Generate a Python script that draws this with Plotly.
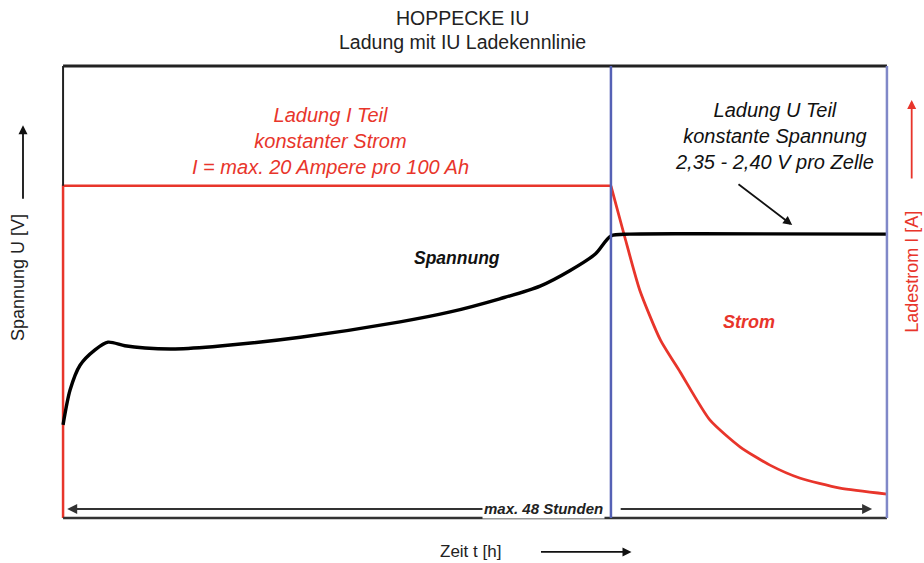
import plotly.graph_objects as go

# Voltage curve (Spannung), relative units on both axes (0..100)
u_time = [0, 0.85, 2.06, 3.88, 5.46, 7.5, 9.95, 13.6, 19.05, 28.8, 40.9, 47.0,
          53.0, 57.9, 61.5, 64.6, 66.5, 68.8, 77.3, 100]
u_volt = [20.6, 28.3, 33.8, 37.2, 38.9, 38.1, 37.6, 37.4, 38.05, 40.0, 43.4, 45.6,
          48.5, 51.3, 54.7, 58.4, 62.4, 62.8, 62.9, 62.8]

# Charging current (Strom): constant phase, then decay
i_const_time = [0, 0, 66.5]
i_const_amp = [0, 73.5, 73.5]
i_decay_time = [66.5, 68.2, 70.0, 72.5, 74.9, 78.5, 82.2, 85.8, 89.4, 94.3, 100]
i_decay_amp = [73.5, 62.0, 50.4, 39.4, 32.3, 21.7, 15.7, 11.7, 8.85, 6.6, 5.3]

switch_time = 66.5

RED = '#e8352b'
BLUE = '#5561b5'
FONT = 'Liberation Sans, Arial, sans-serif'

fig = go.Figure()

fig.add_trace(go.Scatter(
    x=i_const_time, y=i_const_amp, mode='lines',
    line=dict(color=RED, width=2.5),
    cliponaxis=False, hoverinfo='skip'
))
fig.add_trace(go.Scatter(
    x=i_decay_time, y=i_decay_amp, mode='lines',
    line=dict(color=RED, width=2.8, shape='spline', smoothing=0.6),
    cliponaxis=False, hoverinfo='skip'
))
fig.add_trace(go.Scatter(
    x=u_time, y=u_volt, mode='lines',
    line=dict(color='black', width=3.4, shape='spline', smoothing=0.8),
    cliponaxis=False, hoverinfo='skip'
))

shapes = [
    # frame
    dict(type='line', xref='x', yref='paper', x0=0, y0=1, x1=100, y1=1,
         line=dict(color='#222222', width=3)),
    dict(type='line', xref='x', yref='paper', x0=0, y0=0, x1=100, y1=0,
         line=dict(color='#333333', width=2.5)),
    dict(type='line', xref='x', yref='paper', x0=0, y0=73.5 / 100, x1=0, y1=1,
         line=dict(color='#222222', width=2)),
    dict(type='line', xref='x', yref='paper', x0=100, y0=0, x1=100, y1=1,
         line=dict(color='#8088c8', width=2.5)),
    # phase switch
    dict(type='line', xref='x', yref='paper', x0=switch_time, y0=0, x1=switch_time, y1=1,
         line=dict(color=BLUE, width=2.5)),
]

annotations = [
    dict(text='HOPPECKE IU', xref='paper', yref='paper', x=0.485, y=1.106,
         yanchor='middle', showarrow=False, font=dict(size=19.5, color='#222222')),
    dict(text='Ladung mit IU Ladekennlinie', xref='paper', yref='paper', x=0.485, y=1.053,
         yanchor='middle', showarrow=False, font=dict(size=19.5, color='#222222')),
    dict(text='<i>Ladung I Teil<br>konstanter Strom<br>I = max. 20 Ampere pro 100 Ah</i>',
         x=32.4, y=83.5, yanchor='middle', showarrow=False, align='center',
         font=dict(size=20, color=RED)),
    dict(text='<i>Ladung U Teil<br>konstante Spannung<br>2,35 - 2,40 V pro Zelle</i>',
         x=86.3, y=84.5, yanchor='middle', showarrow=False, align='center',
         font=dict(size=20, color='#111111')),
    dict(text='<b><i>Spannung</i></b>', x=47.8, y=57.5, showarrow=False,
         yanchor='middle', font=dict(size=17.5, color='#111111')),
    dict(text='<b><i>Strom</i></b>', x=83.3, y=43.4, showarrow=False,
         yanchor='middle', font=dict(size=18, color=RED)),
    # arrow to U part
    dict(x=88.5, y=64.8, ax=81.8, ay=74.1, axref='x', ayref='y', text='',
         showarrow=True, arrowhead=2, arrowsize=1, arrowwidth=1.8, arrowcolor='#111111'),
    # time span arrows
    dict(x=0.5, y=2.0, ax=65.5, ay=2.0, axref='x', ayref='y', text='',
         showarrow=True, arrowhead=2, arrowsize=1, arrowwidth=2, arrowcolor='#333333'),
    dict(x=98.2, y=2.0, ax=67.5, ay=2.0, axref='x', ayref='y', text='',
         showarrow=True, arrowhead=2, arrowsize=1, arrowwidth=2, arrowcolor='#333333'),
    dict(text='<b><i>max. 48 Stunden</i></b>', x=65.8, y=2.0, xanchor='right',
         yanchor='middle', showarrow=False, bgcolor='white',
         font=dict(size=15, color='#222222')),
    # axis labels
    dict(text='Zeit t [h]', xref='paper', yref='paper', x=0.494, y=-0.075,
         xanchor='center', yanchor='middle', showarrow=False,
         font=dict(size=17, color='#222222')),
    dict(xref='paper', yref='paper', x=0.689, y=-0.075, ax=-92, ay=0, text='',
         showarrow=True, arrowhead=2, arrowsize=1, arrowwidth=1.8, arrowcolor='#111111'),
    dict(text='Spannung U [V]', xref='paper', yref='paper', x=-0.0519, y=0.531,
         xanchor='center', yanchor='middle', textangle=-90, showarrow=False,
         font=dict(size=18, color='#222222')),
    dict(xref='paper', yref='paper', x=-0.0459, y=0.869, ax=0, ay=75, text='',
         showarrow=True, arrowhead=2, arrowsize=1, arrowwidth=1.8, arrowcolor='#111111'),
    dict(text='Ladestrom I [A]', xref='paper', yref='paper', x=1.0274, y=0.544,
         xanchor='center', yanchor='middle', textangle=-90, showarrow=False,
         font=dict(size=18, color=RED)),
    dict(xref='paper', yref='paper', x=1.0274, y=0.925, ax=0, ay=80, text='',
         showarrow=True, arrowhead=2, arrowsize=1, arrowwidth=1.8, arrowcolor=RED),
]

fig.update_layout(
    width=924, height=563,
    margin=dict(l=61, r=35, t=66, b=45),
    paper_bgcolor='white', plot_bgcolor='white',
    font=dict(family=FONT),
    showlegend=False,
    xaxis=dict(range=[-0.25, 100.25], visible=False, fixedrange=True),
    yaxis=dict(range=[0, 100], visible=False, fixedrange=True),
    shapes=shapes,
    annotations=annotations,
    hovermode=False,
)

# drop the default body margin so the figure fills the window exactly
fig.write_html("out.html", config=dict(displayModeBar=False),
               post_script="document.body.style.margin='0px';document.body.style.overflow='hidden';")
